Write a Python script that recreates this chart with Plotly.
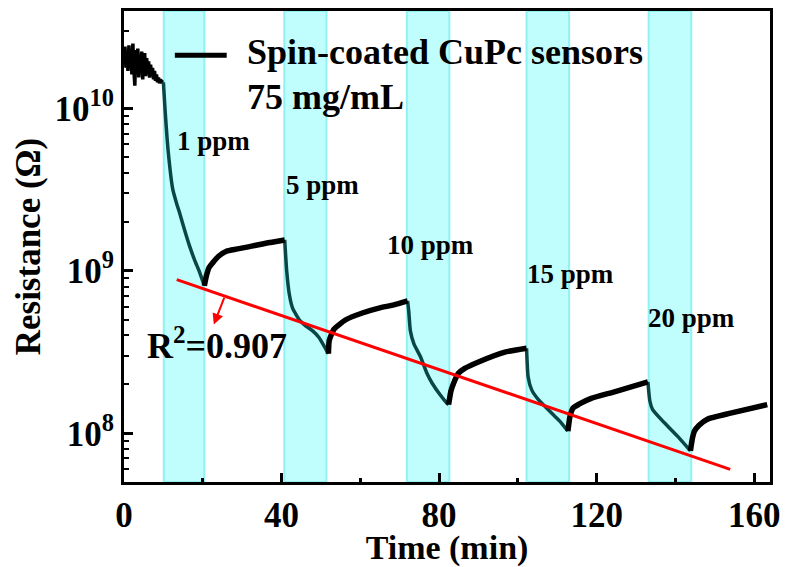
import math
import plotly.graph_objects as go

# ---------------- data ----------------
# baseline before the first exposure (time in min, resistance in ohm)
pre_t = [0.0, 0.25, 0.5, 0.75, 1.0, 1.25, 1.5, 1.75, 2.0, 2.25, 2.5, 2.75, 3.0, 3.25,
         3.5, 3.75, 4.0, 4.25, 4.5, 4.75, 5.0, 5.25, 5.5, 5.75, 6.0, 6.25, 6.5, 6.75,
         7.0, 7.25, 7.5, 7.75, 8.0, 8.25, 8.5, 8.75, 9.0, 9.25, 9.5, 9.75, 10.0]
pre_R = [2.00e10, 2.40e10, 1.78e10, 2.24e10, 1.70e10, 2.45e10, 1.86e10, 2.19e10,
         1.62e10, 2.51e10, 1.74e10, 1.38e10, 2.29e10, 1.82e10, 2.34e10, 1.55e10,
         2.09e10, 1.74e10, 2.24e10, 1.51e10, 1.95e10, 2.19e10, 1.58e10, 2.04e10,
         1.70e10, 1.95e10, 1.55e10, 1.86e10, 1.62e10, 1.78e10, 1.51e10, 1.70e10,
         1.48e10, 1.62e10, 1.45e10, 1.55e10, 1.43e10, 1.51e10, 1.46e10, 1.45e10, 1.45e10]

# exposure (gas on) segments
exp_t = [
    [10.0, 10.4, 11.2, 12.4, 13.3, 14.2, 15.4, 16.7, 17.9, 19.2, 20.4],
    [40.8, 41.3, 42.0, 42.8, 44.5, 46.2, 47.9, 49.5, 51.2, 51.9],
    [72.0, 72.3, 72.7, 73.6, 75.3, 76.9, 78.2, 80.3, 82.0, 82.4],
    [102.2, 102.6, 103.5, 105.2, 109.4, 111.0, 112.7],
    [133.0, 133.5, 134.2, 137.2, 140.5, 143.8],
]
exp_R = [
    [1.45e10, 1.0e10, 5.5e9, 3.16e9, 2.63e9, 2.24e9, 1.78e9, 1.41e9, 1.17e9, 9.8e8, 8.1e8],
    [1.55e9, 1.0e9, 7.1e8, 5.9e8, 5.0e8, 4.57e8, 4.27e8, 3.89e8, 3.31e8, 3.09e8],
    [6.53e8, 5.62e8, 4.27e8, 3.55e8, 2.95e8, 2.34e8, 2.04e8, 1.72e8, 1.53e8, 1.50e8],
    [3.34e8, 2.22e8, 1.85e8, 1.61e8, 1.27e8, 1.16e8, 1.03e8],
    [2.07e8, 1.58e8, 1.40e8, 1.16e8, 9.6e7, 7.8e7],
]
# recovery (gas off) segments
rec_t = [
    [20.4, 20.9, 21.6, 22.5, 24.0, 26.0, 28.5, 31.9, 36.0, 40.8],
    [51.9, 52.1, 53.3, 56.3, 60.5, 64.7, 68.5, 72.0],
    [82.4, 83.0, 83.7, 84.9, 86.5, 90.0, 96.7, 102.2],
    [112.7, 113.2, 114.0, 115.5, 118.6, 124.5, 133.0],
    [143.8, 144.3, 144.8, 146.0, 148.1, 154.0, 163.3],
]
rec_R = [
    [8.1e8, 9.3e8, 1.05e9, 1.12e9, 1.23e9, 1.32e9, 1.36e9, 1.41e9, 1.48e9, 1.55e9],
    [3.09e8, 3.72e8, 4.37e8, 5.0e8, 5.5e8, 5.9e8, 6.17e8, 6.53e8],
    [1.50e8, 1.82e8, 2.04e8, 2.34e8, 2.51e8, 2.75e8, 3.16e8, 3.34e8],
    [1.03e8, 1.26e8, 1.43e8, 1.51e8, 1.64e8, 1.80e8, 2.07e8],
    [7.8e7, 9.3e7, 1.03e8, 1.12e8, 1.22e8, 1.33e8, 1.50e8],
]

# gas exposure windows (min)
band_start = [10.1, 40.7, 71.8, 102.2, 133.2]
band_end = [20.4, 51.4, 82.6, 113.0, 144.0]
band_labels = ["1 ppm", "5 ppm", "10 ppm", "15 ppm", "20 ppm"]
label_t = [22.7, 50.4, 77.8, 113.4, 144.0]
label_R = [6.3e9, 3.36e9, 1.44e9, 9.5e8, 5.1e8]

# linear fit of the minima
fit_t = [13.4, 153.9]
fit_R = [8.83e8, 6.0e7]
fit_r2 = "0.907"

x_ticks = [0, 40, 80, 120, 160]
x_minor = [20, 60, 100, 140]
y_ticks = [1e8, 1e9, 1e10]
y_ticktext = ["10<sup>8</sup>", "10<sup>9</sup>", "10<sup>10</sup>"]

FONT = "Liberation Serif"

def join(seg_t, seg_R):
    xs, ys = [], []
    for a, b in zip(seg_t, seg_R):
        xs += a + [None]
        ys += b + [None]
    return xs, ys

fig = go.Figure()

# shaded exposure windows
for s, e in zip(band_start, band_end):
    fig.add_shape(type="rect", xref="x", yref="paper", x0=s, x1=e, y0=0, y1=1,
                  fillcolor="#c0fdfd", line=dict(color="#90f2f2", width=2),
                  layer="below")

fig.add_trace(go.Scatter(x=pre_t, y=pre_R, mode="lines",
                         line=dict(color="black", width=3.5), showlegend=False))

ex, ey = join(exp_t, exp_R)
fig.add_trace(go.Scatter(x=ex, y=ey, mode="lines",
                         line=dict(color="#0b4646", width=3.5, shape="spline", smoothing=0.5),
                         showlegend=False))
rx, ry = join(rec_t, rec_R)
fig.add_trace(go.Scatter(x=rx, y=ry, mode="lines",
                         line=dict(color="black", width=5.5, shape="spline", smoothing=0.5),
                         showlegend=False))

fig.add_trace(go.Scatter(x=fit_t, y=fit_R, mode="lines",
                         line=dict(color="#ff0000", width=3), showlegend=False))

bold = dict(family=FONT, color="black", weight="bold")

# concentration labels
for t, r, txt in zip(label_t, label_R, band_labels):
    fig.add_annotation(x=t, y=math.log10(r), xref="x", yref="y", text=txt,
                       showarrow=False, font=dict(size=27, **bold))

# R^2 text and arrow from the fit line
fig.add_annotation(x=23.6, y=8.55, xref="x", yref="y",
                   text="R<sup>2</sup>=" + fit_r2, showarrow=False,
                   font=dict(size=36, **bold))
fig.add_annotation(x=22.8, y=8.669, xref="x", yref="y", ax=25.6, ay=8.845,
                   axref="x", ayref="y", text="", showarrow=True,
                   arrowcolor="#ff0000", arrowwidth=2, arrowhead=2, arrowsize=1.1,
                   standoff=0, startstandoff=0)

# legend-like key
fig.add_shape(type="line", xref="paper", yref="paper", x0=0.0787, x1=0.159,
              y0=0.906, y1=0.906, line=dict(color="black", width=5))
fig.add_annotation(x=0.187, y=0.912, xref="paper", yref="paper",
                   text="Spin-coated CuPc sensors", showarrow=False,
                   xanchor="left", yanchor="middle", font=dict(size=36, **bold))
fig.add_annotation(x=0.187, y=0.818, xref="paper", yref="paper",
                   text="75 mg/mL", showarrow=False,
                   xanchor="left", yanchor="middle", font=dict(size=36, **bold))

fig.update_layout(
    width=788, height=567,
    margin=dict(l=124, r=16, t=8, b=80),
    paper_bgcolor="white", plot_bgcolor="white",
    font=dict(family=FONT, color="black"),
)
fig.update_xaxes(
    range=[0, 164], tickvals=x_ticks, ticks="inside", ticklen=9, tickwidth=2.5,
    tickcolor="black", showline=True, linecolor="black", linewidth=3, mirror=True,
    showgrid=False, zeroline=False,
    minor=dict(tickvals=x_minor, ticks="inside", ticklen=4, tickwidth=2.5,
               tickcolor="black", showgrid=False),
    tickfont=dict(size=35, **bold),
    title=dict(text="Time (min)", font=dict(size=34, **bold), standoff=0),
)
y_minor = [m * 10 ** k for k in (7, 8, 9, 10) for m in range(2, 10)]
fig.update_yaxes(
    type="log", range=[7.70, 10.60], tickvals=y_ticks, ticktext=y_ticktext,
    ticks="inside", ticklen=9, tickwidth=2.5, tickcolor="black",
    showline=True, linecolor="black", linewidth=3, mirror=True,
    showgrid=False, zeroline=False,
    minor=dict(tickvals=y_minor, ticks="inside", ticklen=5, tickwidth=2,
               tickcolor="black", showgrid=False),
    tickfont=dict(size=35, **bold),
    title=dict(text="Resistance (Ω)", font=dict(size=35, **bold), standoff=4),
)

fig.write_html("out.html")
